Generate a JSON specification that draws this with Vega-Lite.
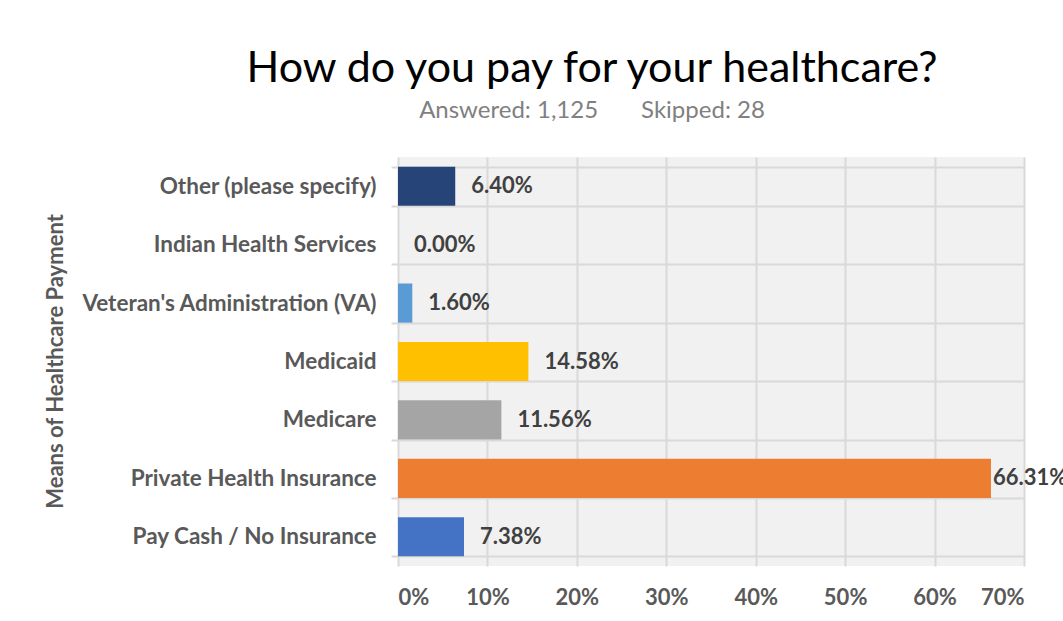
{
  "$schema": "https://vega.github.io/schema/vega-lite/v6.json",
  "autosize": {"type": "none"},
  "width": 626,
  "height": 409,
  "padding": {"left": 398, "top": 157, "right": 39, "bottom": 55},
  "background": "white",
  "title": {
    "text": "How do you pay for your healthcare?",
    "subtitle": "Answered: 1,125\u00a0\u00a0\u00a0\u00a0\u00a0\u00a0 Skipped: 28",
    "anchor": "middle",
    "frame": "group",
    "dx": -119,
    "offset": 23,
    "font": "Lato",
    "fontSize": 43,
    "fontWeight": "normal",
    "color": "#000000",
    "subtitleFont": "Lato",
    "subtitleFontSize": 24,
    "subtitleColor": "#808080",
    "subtitlePadding": 8
  },
  "config": {
    "view": {"fill": "#f1f1f1", "stroke": null},
    "font": "Lato"
  },
  "data": {
    "values": [
      {"category": "Other (please specify)", "pct": 0.064, "label": "6.40%"},
      {"category": "Indian Health Services", "pct": 0.0, "label": "0.00%"},
      {"category": "Veteran's Administration (VA)", "pct": 0.016, "label": "1.60%"},
      {"category": "Medicaid", "pct": 0.1458, "label": "14.58%"},
      {"category": "Medicare", "pct": 0.1156, "label": "11.56%"},
      {"category": "Private Health Insurance", "pct": 0.6631, "label": "66.31%"},
      {"category": "Pay Cash / No Insurance", "pct": 0.0738, "label": "7.38%"}
    ]
  },
  "encoding": {
    "y": {
      "field": "category",
      "type": "nominal",
      "sort": null,
      "scale": {"paddingInner": 0.33, "paddingOuter": 0.165},
      "axis": {
        "title": "Means of Healthcare Payment",
        "titleFont": "Lato",
        "titleFontSize": 22,
        "titleFontWeight": "bold",
        "titleColor": "#595959",
        "titleAngle": -90,
        "titleX": -343,
        "titleY": 204,
        "titleAlign": "center",
        "titleBaseline": "middle",
        "labelFont": "Lato",
        "labelFontSize": 22.5,
        "labelFontWeight": "bold",
        "labelColor": "#595959",
        "labelLimit": 400,
        "labelPadding": 15,
        "tickBand": "extent",
        "tickSize": 7,
        "tickColor": "#d9d9d9",
        "tickWidth": 2,
        "grid": true,
        "gridColor": "#d9d9d9",
        "gridWidth": 2,
        "domain": false
      }
    },
    "x": {
      "field": "pct",
      "type": "quantitative",
      "scale": {"domain": [0, 0.7], "nice": false},
      "axis": {
        "title": null,
        "format": ".0%",
        "values": [0, 0.1, 0.2, 0.3, 0.4, 0.5, 0.6, 0.7],
        "labelFont": "Lato",
        "labelFontSize": 22,
        "labelFontWeight": "bold",
        "labelColor": "#595959",
        "labelPadding": 21,
        "tickSize": 0,
        "grid": true,
        "gridColor": "#d9d9d9",
        "gridWidth": 2,
        "domain": false
      }
    }
  },
  "layer": [
    {
      "mark": {"type": "bar"},
      "encoding": {
        "color": {
          "field": "category",
          "type": "nominal",
          "scale": {
            "domain": ["Other (please specify)", "Indian Health Services", "Veteran's Administration (VA)", "Medicaid", "Medicare", "Private Health Insurance", "Pay Cash / No Insurance"],
            "range": ["#264478", "#9E480E", "#5B9BD5", "#FFC000", "#A5A5A5", "#ED7D31", "#4472C4"]
          },
          "legend": null
        }
      }
    },
    {
      "transform": [{"filter": "datum.pct < 0.5"}],
      "mark": {"type": "text", "align": "left", "baseline": "middle", "dx": 16, "font": "Lato", "fontSize": 22, "fontWeight": "bold", "color": "#404040"},
      "encoding": {"text": {"field": "label"}}
    },
    {
      "transform": [{"filter": "datum.pct >= 0.5"}],
      "mark": {"type": "text", "align": "left", "baseline": "middle", "dx": 2, "font": "Lato", "fontSize": 22, "fontWeight": "bold", "color": "#404040"},
      "encoding": {"text": {"field": "label"}}
    }
  ]
}
